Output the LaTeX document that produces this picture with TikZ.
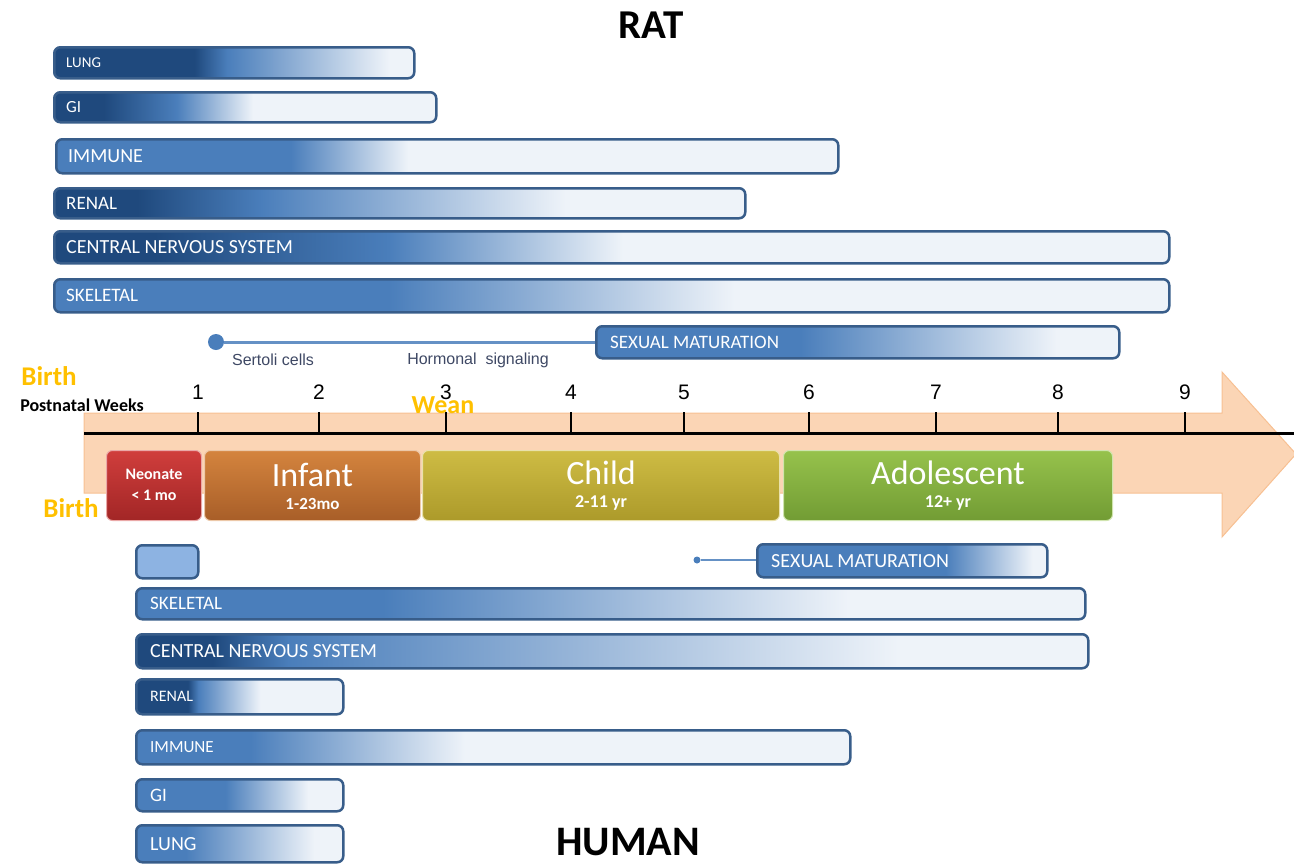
\documentclass[tikz,border=0pt]{standalone}
\usepackage{fontspec}
\setmainfont{Carlito}
\newfontfamily\arialfont{Liberation Sans}
\usepackage{xcolor}
\usepackage{tikz}
\usetikzlibrary{positioning,calc}

\definecolor{bdark}{RGB}{31,73,125}
\definecolor{bmid}{RGB}{74,126,187}
\definecolor{blight}{RGB}{238,243,249}
\definecolor{bedge}{RGB}{56,93,138}
\definecolor{bsoft}{RGB}{141,179,226}
\definecolor{peach}{RGB}{251,213,181}
\definecolor{peachedge}{RGB}{247,192,146}
\definecolor{gold}{RGB}{255,192,0}
\definecolor{notegray}{RGB}{62,72,100}
\definecolor{neotop}{RGB}{208,62,60}
\definecolor{neobot}{RGB}{162,38,38}
\definecolor{inftop}{RGB}{212,132,62}
\definecolor{infbot}{RGB}{168,94,40}
\definecolor{chtop}{RGB}{206,188,68}
\definecolor{chbot}{RGB}{172,154,42}
\definecolor{adtop}{RGB}{150,194,76}
\definecolor{adbot}{RGB}{114,156,52}

\newcommand{\fs}[1]{\fontsize{#1}{#1}\selectfont}
% name, start colour, end of start colour, full mid blue, fully light (25bp..75bp = bar)
\newcommand{\barshading}[5]{%
  \pgfdeclarehorizontalshading{#1}{100bp}{color(0bp)=(#2); color(#3)=(#2); color(#4)=(bmid); color(#5)=(blight); color(100bp)=(blight)}}

\barshading{ratlung}{bdark}{44.5bp}{49bp}{71.5bp}
\barshading{ratgi}{bdark}{31.5bp}{41bp}{51bp}
\barshading{ratimmune}{bmid}{39bp}{40bp}{47.5bp}
\barshading{ratrenal}{bdark}{31bp}{40bp}{62bp}
\barshading{ratcns}{bdark}{29.5bp}{40bp}{50.5bp}
\barshading{ratskel}{bmid}{39bp}{40bp}{55.5bp}
\barshading{ratsex}{bmid}{43.5bp}{44.5bp}{69bp}
\barshading{humskel}{bmid}{37bp}{38bp}{62.5bp}
\barshading{humcns}{bdark}{29bp}{33bp}{65bp}
\barshading{humrenal}{bdark}{37.5bp}{40bp}{55bp}
\barshading{humimmune}{bmid}{32bp}{33bp}{48bp}
\barshading{humgi}{bmid}{45.5bp}{46.5bp}{66.5bp}
\barshading{humlung}{bmid}{36bp}{37bp}{68bp}
\barshading{humsex}{bmid}{56.5bp}{57.5bp}{72.5bp}

\tikzset{
    organ/.style={draw=bedge, line width=2.5pt, rounded corners=6pt, inner sep=0pt, anchor=north west},
    organtext/.style={text=white, anchor=west, inner sep=0pt},
    stagebox/.style 2 args={draw=white!55!#1, line width=1pt, rounded corners=6pt, inner sep=0pt,
        top color=#1, bottom color=#2, anchor=north west, minimum height=70pt},
    stagetitle/.style={text=white, font=\fs{34}, inner sep=0pt},
    stagesub/.style={text=white, font=\bfseries\fs{18}, inner sep=0pt},
    weeknum/.style={font=\arialfont\fs{21}, inner sep=0pt},
    marker/.style={text=gold, font=\bfseries\fs{27}, inner sep=0pt},
    note/.style={text=notegray, font=\arialfont\fs{16}, inner sep=0pt},
    sexline/.style={draw=bmid!85!white, line width=3pt},
}

\begin{document}
\begin{tikzpicture}[x=1pt, y=-1pt]
    \useasboundingbox (0,0) rectangle (1294,865);

    \node[font=\bfseries\fs{41}, inner sep=0pt] (rat) at (651,25) {RAT};
    \node[font=\bfseries\fs{42}, inner sep=0pt] (human) at (628,842) {HUMAN};

    % rat organ systems
    \node[organ, shading=ratlung, minimum width=360pt, minimum height=31pt] (rlung) at (53,46) {};
    \node[organtext, font=\fs{15}] (rlung-t) at ([xshift=13pt]rlung.west) {LUNG};
    \node[organ, shading=ratgi, minimum width=382pt, minimum height=30pt] (rgi) at (53,91) {};
    \node[organtext, font=\fs{17}] (rgi-t) at ([xshift=13pt]rgi.west) {GI};
    \node[organ, shading=ratimmune, minimum width=782pt, minimum height=34pt] (rimmune) at (55,138) {};
    \node[organtext, font=\fs{20}] (rimmune-t) at ([xshift=13pt]rimmune.west) {IMMUNE};
    \node[organ, shading=ratrenal, minimum width=691pt, minimum height=30pt] (rrenal) at (53,187) {};
    \node[organtext, font=\fs{19}] (rrenal-t) at ([xshift=13pt]rrenal.west) {RENAL};
    \node[organ, shading=ratcns, minimum width=1115pt, minimum height=32pt] (rcns) at (53,230) {};
    \node[organtext, font=\fs{20}] (rcns-t) at ([xshift=13pt]rcns.west) {CENTRAL NERVOUS SYSTEM};
    \node[organ, shading=ratskel, minimum width=1115pt, minimum height=33pt] (rskel) at (53,278) {};
    \node[organtext, font=\fs{19}] (rskel-t) at ([xshift=13pt]rskel.west) {SKELETAL};
    \node[organ, shading=ratsex, minimum width=523pt, minimum height=32pt] (rsex) at (595,325) {};
    \node[organtext, font=\fs{19}] (rsex-t) at ([xshift=15pt]rsex.west) {SEXUAL MATURATION};

    \node[circle, fill=bmid, minimum size=16pt, inner sep=0pt] (rdot) at (216,342) {};
    \draw[sexline] (rdot) -- (rdot -| rsex.west);
    \node[note] (sertoli) at (273,360) {Sertoli cells};
    \node[note] (hormonal) at (478,360) {Hormonal\ \ signaling};

    % timeline arrow
    \draw[fill=peach, draw=peachedge, line width=1pt]
        (84,413) -- (1222,413) -- (1222,372) -- (1296,454) -- (1222,537) -- (1222,493) -- (84,493) -- cycle;
    \draw[line width=3pt] (84,433) -- (1294,433);
    \foreach \x/\n in {198/1, 319/2, 446/3, 571/4, 684/5, 809/6, 936/7, 1058/8, 1185/9} {
        \draw[line width=1.5pt] (\x,412) -- (\x,433);
        \node[weeknum] (wk\n) at (\x,392) {\n};
    }
    \node[marker] (birthrat) at (49,376) {Birth};
    \node[font=\bfseries\fs{18}, inner sep=0pt] (weeks) at (82,405) {Postnatal Weeks};
    \node[marker, font=\bfseries\fs{26}] (wean) at (443,405) {Wean};
    \node[marker] (birthhum) at (71,508) {Birth};

    % human stages
    \node[stagebox={neotop}{neobot}, minimum width=95pt] (neo) at (106,450) {};
    \node[stagesub, font=\bfseries\fs{16}] (neo-t) at ([yshift=11pt]neo.center) {Neonate};
    \node[stagesub, font=\bfseries\fs{16}] (neo-s) at ([yshift=-10pt]neo.center) {< 1 mo};
    \node[stagebox={inftop}{infbot}, minimum width=216pt] (infant) at (204,450) {};
    \node[stagetitle] (infant-t) at ([yshift=11pt]infant.center) {Infant};
    \node[stagesub, font=\bfseries\fs{17}] (infant-s) at ([yshift=-18pt]infant.center) {1-23mo};
    \node[stagebox={chtop}{chbot}, minimum width=357pt] (child) at (422,450) {};
    \node[stagetitle] (child-t) at ([yshift=13pt]child.center) {Child};
    \node[stagesub] (child-s) at ([yshift=-18pt]child.center) {2-11 yr};
    \node[stagebox={adtop}{adbot}, minimum width=329pt] (adol) at (783,450) {};
    \node[stagetitle] (adol-t) at ([yshift=13pt]adol.center) {Adolescent};
    \node[stagesub] (adol-s) at ([yshift=-18pt]adol.center) {12+ yr};

    % human organ systems
    \node[organ, fill=bsoft, minimum width=62pt, minimum height=33pt] (hbox) at (135,544) {};
    \node[organ, shading=humsex, minimum width=290pt, minimum height=33pt] (hsex) at (756,543) {};
    \node[organtext, font=\fs{20}] (hsex-t) at ([xshift=15pt]hsex.west) {SEXUAL MATURATION};
    \node[circle, fill=bmid, minimum size=7pt, inner sep=0pt] (hdot) at (697,560) {};
    \draw[sexline, line width=2.5pt] (hdot) -- (hdot -| hsex.west);
    \node[organ, shading=humskel, minimum width=949pt, minimum height=31pt] (hskel) at (135,587) {};
    \node[organtext, font=\fs{19}] (hskel-t) at ([xshift=15pt]hskel.west) {SKELETAL};
    \node[organ, shading=humcns, minimum width=952pt, minimum height=34pt] (hcns) at (135,633) {};
    \node[organtext, font=\fs{20}] (hcns-t) at ([xshift=15pt]hcns.west) {CENTRAL NERVOUS SYSTEM};
    \node[organ, shading=humrenal, minimum width=207pt, minimum height=35pt] (hrenal) at (135,678) {};
    \node[organtext, font=\fs{16}] (hrenal-t) at ([xshift=15pt]hrenal.west) {RENAL};
    \node[organ, shading=humimmune, minimum width=714pt, minimum height=34pt] (himmune) at (135,729) {};
    \node[organtext, font=\fs{17}] (himmune-t) at ([xshift=15pt]himmune.west) {IMMUNE};
    \node[organ, shading=humgi, minimum width=207pt, minimum height=32pt] (hgi) at (135,778) {};
    \node[organtext, font=\fs{19}] (hgi-t) at ([xshift=15pt]hgi.west) {GI};
    \node[organ, shading=humlung, minimum width=207pt, minimum height=37pt] (hlung) at (135,824) {};
    \node[organtext, font=\fs{20}] (hlung-t) at ([xshift=15pt]hlung.west) {LUNG};
\end{tikzpicture}
\end{document}
